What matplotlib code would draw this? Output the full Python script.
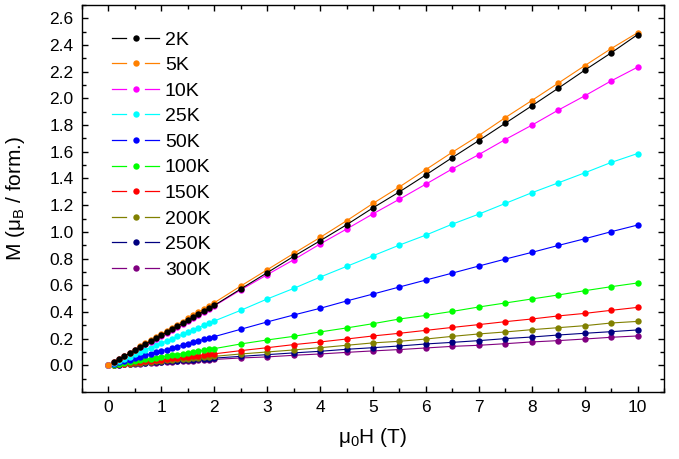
import numpy as np
import matplotlib
matplotlib.use("Agg")
import matplotlib.pyplot as plt
from matplotlib.lines import Line2D
from matplotlib.legend_handler import HandlerBase
from matplotlib.ticker import MultipleLocator

plt.rcParams['font.family'] = ['Liberation Sans', 'DejaVu Sans']
plt.rcParams['mathtext.default'] = 'regular'

field = [0.0, 0.1, 0.2, 0.3, 0.4, 0.5, 0.6, 0.7, 0.8, 0.9, 1.0,
         1.1, 1.2, 1.3, 1.4, 1.5, 1.6, 1.7, 1.8, 1.9, 2.0,
         2.5, 3.0, 3.5, 4.0, 4.5, 5.0, 5.5, 6.0, 6.5, 7.0,
         7.5, 8.0, 8.5, 9.0, 9.5, 10.0]

labels = ['2K', '5K', '10K', '25K', '50K', '100K', '150K', '200K', '250K', '300K']
colors = ['#000000', '#FF8000', '#FF00FF', '#00FFFF', '#0000FF',
          '#00FF00', '#FF0000', '#808000', '#000080', '#800080']

m_2K = [np.nan, .022, .045, .067, .090, .112, .135, .157, .180, .202, .225, .247, .269, .292, .314, .337, .359, .382, .404, .427, .449,
        .572, .694, .816, .933, 1.053, 1.180, 1.300, 1.427, 1.557, 1.684, 1.814, 1.944, 2.076, 2.211, 2.341, 2.478]
m_5K = [0, .023, .047, .070, .094, .117, .141, .164, .188, .211, .235, .258, .281, .305, .328, .352, .375, .399, .422, .446, .469,
        .594, .716, .838, .958, 1.083, 1.213, 1.337, 1.467, 1.597, 1.722, 1.856, 1.984, 2.114, 2.245, 2.373, 2.492]
m_10K = [0, .022, .045, .067, .089, .111, .134, .156, .178, .200, .223, .245, .267, .289, .312, .334, .356, .378, .401, .423, .445,
         .565, .679, .791, .909, 1.021, 1.135, 1.245, 1.358, 1.472, 1.579, 1.692, 1.799, 1.912, 2.019, 2.131, 2.234]
m_25K = [0, .017, .033, .050, .066, .083, .100, .116, .133, .149, .166, .183, .199, .216, .232, .249, .266, .282, .299, .315, .332,
         .412, .497, .576, .661, .741, .821, .901, .976, 1.058, 1.133, 1.213, 1.293, 1.367, 1.442, 1.520, 1.587]
m_50K = [0, .011, .022, .032, .043, .054, .065, .075, .086, .097, .108, .118, .129, .140, .151, .161, .172, .183, .194, .204, .215,
         .270, .325, .377, .427, .482, .534, .587, .639, .691, .744, .796, .846, .898, .948, 1.001, 1.051]
m_100K = [0, .006, .013, .019, .025, .031, .038, .044, .050, .056, .063, .069, .075, .081, .088, .094, .100, .106, .113, .119, .125,
          .160, .190, .217, .250, .280, .312, .347, .374, .404, .437, .467, .497, .527, .559, .589, .617]
m_150K = [0, .004, .009, .013, .017, .022, .026, .030, .034, .039, .043, .047, .052, .056, .060, .065, .069, .073, .077, .082, .086,
          .110, .132, .155, .175, .197, .220, .240, .262, .284, .305, .327, .347, .370, .389, .412, .434]
m_200K = [0, .003, .007, .010, .013, .017, .020, .023, .027, .030, .034, .037, .040, .044, .047, .050, .054, .057, .060, .064, .067,
          .085, .100, .115, .132, .150, .168, .180, .197, .217, .235, .250, .267, .282, .297, .317, .329]
m_250K = [0, .003, .005, .008, .011, .014, .016, .019, .022, .024, .027, .030, .032, .035, .038, .041, .043, .046, .049, .051, .054,
          .067, .080, .093, .105, .120, .132, .145, .160, .172, .185, .200, .212, .227, .240, .252, .265]
m_300K = [0, .002, .004, .007, .009, .011, .013, .015, .018, .020, .022, .024, .026, .029, .031, .033, .035, .037, .040, .042, .044,
          .055, .063, .075, .085, .097, .108, .118, .130, .142, .150, .162, .175, .185, .197, .210, .220]

series = [m_2K, m_5K, m_10K, m_25K, m_50K, m_100K, m_150K, m_200K, m_250K, m_300K]


class SplitLineHandler(HandlerBase):
    """line segment - dot - line segment, with gaps around the dot"""
    def create_artists(self, legend, orig_handle, xdescent, ydescent,
                       width, height, fontsize, trans):
        c = orig_handle.get_color()
        y = height / 2 - ydescent
        x0 = -xdescent
        seg = width * 0.31
        l1 = Line2D([x0, x0 + seg], [y, y], color=c, lw=0.9)
        l2 = Line2D([x0 + width - seg, x0 + width], [y, y], color=c, lw=0.9)
        mk = Line2D([x0 + width / 2], [y], marker='o', ms=4.6, mew=0,
                    mfc=c, linestyle='none')
        for a in (l1, l2, mk):
            a.set_transform(trans)
        return [l1, l2, mk]


fig = plt.figure(figsize=(6.79, 4.59), dpi=100)
ax = fig.add_axes([82/679, 1-392/459, (664-82)/679, (392-5)/459])

H = np.array(field)
# draw 300K first, 2K last
for lab, col, m in reversed(list(zip(labels, colors, series))):
    ax.plot(H, np.array(m, dtype=float), '-', color=col, lw=0.8,
            marker='o', ms=4.6, mec=col, mfc=col, mew=0)

ax.set_xlim(-0.5, 10.5)
ax.set_ylim(-0.2, 2.7)
ax.xaxis.set_minor_locator(MultipleLocator(0.5))
ax.yaxis.set_minor_locator(MultipleLocator(0.1))
yt = np.arange(0, 2.61, 0.2)
ax.set_yticks(yt)
ax.set_yticklabels([f'{v:.1f}' for v in yt])
ax.set_xticks(range(0, 11))

ax.tick_params(which='both', direction='in', top=True, right=True, width=1.0,
               labelsize=12.5)
ax.tick_params(which='major', length=4.5)
ax.tick_params(which='minor', length=2.8)
ax.tick_params(axis='x', which='major', pad=6)
ax.tick_params(axis='y', which='major', pad=6)
for s in ax.spines.values():
    s.set_linewidth(1.0)

ax.set_xlabel('μ$_0$H (T)', fontsize=15, labelpad=8)
ax.set_ylabel('M (μ$_B$ / form.)', fontsize=15, labelpad=16)

handles = [Line2D([], [], color=c) for c in colors]
ax.legend(handles, labels, loc='upper left', bbox_to_anchor=(0.051, 0.933),
          frameon=False, fontsize=14, handlelength=2.45, handletextpad=0.29,
          labelspacing=0.41, borderaxespad=0.0, borderpad=0.0,
          handler_map={Line2D: SplitLineHandler()})

fig.savefig('out.png', dpi=100)
